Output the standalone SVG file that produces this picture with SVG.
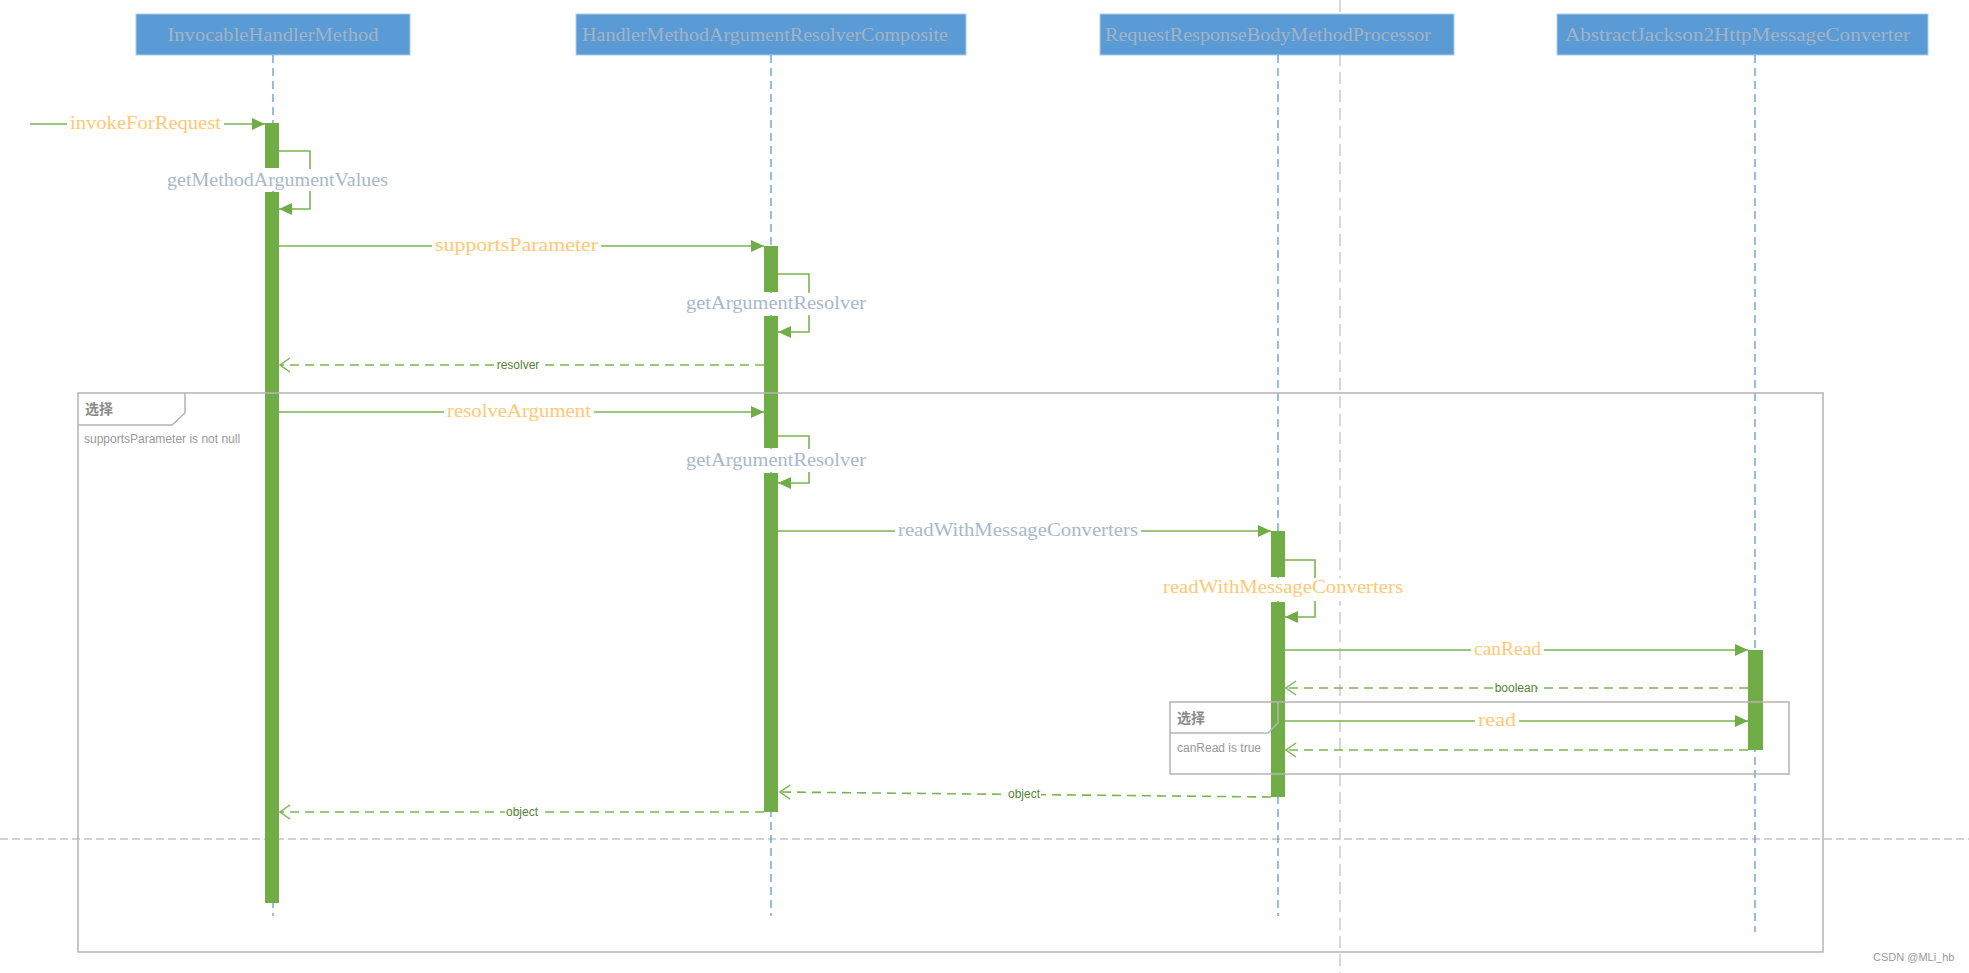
<svg xmlns="http://www.w3.org/2000/svg" width="1969" height="973" viewBox="0 0 1969 973">
<style>
.hdr{fill:#5b9bd5;stroke:#a8cdee;stroke-width:1}
.ht{font-family:"Liberation Serif",serif;font-size:18px;fill:#a3b3c6}
.life{stroke:#5b9bd5;stroke-width:1.3;stroke-dasharray:8 5}
.bar{fill:#70ad47}
.msg{stroke:#7ab552;stroke-width:1.6;fill:none}
.ret{stroke:#7ab552;stroke-width:1.6;fill:none;stroke-dasharray:9 6}
.mo{font-family:"Liberation Serif",serif;font-size:18px;fill:#ffc873}
.mg{font-family:"Liberation Serif",serif;font-size:18px;fill:#a8b8cc}
.rl{font-family:"Liberation Sans",sans-serif;font-size:12px;fill:#548235;text-anchor:middle}
.frame{fill:none;stroke:#b4b4b4;stroke-width:1.5}
.ft{font-family:"Noto Sans CJK SC",sans-serif;font-size:14px;font-weight:bold;fill:#8a8a8a}
.fc{font-family:"Liberation Sans",sans-serif;font-size:12px;fill:#999}
.bg{fill:#fff}
.gd{stroke:#c4c4c4;stroke-width:1.3;fill:none}
</style>
<defs>
<marker id="tri" markerWidth="14" markerHeight="12" refX="13" refY="6" orient="auto" markerUnits="userSpaceOnUse"><path d="M0,0 L13,6 L0,12 z" fill="#70ad47"/></marker>
<marker id="open" markerWidth="14" markerHeight="16" refX="11" refY="7" orient="auto" markerUnits="userSpaceOnUse" overflow="visible"><path d="M1,0 L11,7 L1,14" fill="none" stroke="#7ab552" stroke-width="1.5"/></marker>
</defs>
<rect width="1969" height="973" fill="#fff"/>
<g id="separators">
<line class="gd" x1="1340" y1="0" x2="1340" y2="973" stroke-dasharray="12 6"/>
<line class="gd" x1="0" y1="839" x2="1969" y2="839" stroke="#b0b0b0" stroke-width="1.5" stroke-dasharray="8 4"/>
</g>
<g id="InvocableHandlerMethod">
<rect class="hdr" x="136" y="14" width="274" height="41"/>
<text class="ht" x="273" y="41" text-anchor="middle" textLength="211" lengthAdjust="spacingAndGlyphs">InvocableHandlerMethod</text>
<line class="life" x1="273" y1="55" x2="273" y2="916"/>
<rect class="bar" x="265" y="123" width="14" height="45"/>
<rect class="bar" x="265" y="192" width="14" height="711"/>
</g>
<g id="HandlerMethodArgumentResolverComposite">
<rect class="hdr" x="576" y="14" width="390" height="41"/>
<text class="ht" x="582" y="41" textLength="366" lengthAdjust="spacingAndGlyphs">HandlerMethodArgumentResolverComposite</text>
<line class="life" x1="771" y1="55" x2="771" y2="916"/>
<rect class="bar" x="764" y="246" width="14" height="46"/>
<rect class="bar" x="764" y="316" width="14" height="132"/>
<rect class="bar" x="764" y="473" width="14" height="339"/>
</g>
<g id="RequestResponseBodyMethodProcessor">
<rect class="hdr" x="1100" y="14" width="354" height="41"/>
<text class="ht" x="1105" y="41" textLength="326" lengthAdjust="spacingAndGlyphs">RequestResponseBodyMethodProcessor</text>
<line class="life" x1="1278" y1="55" x2="1278" y2="916"/>
<rect class="bar" x="1271" y="531" width="14" height="46"/>
<rect class="bar" x="1271" y="602" width="14" height="195"/>
</g>
<g id="AbstractJackson2HttpMessageConverter">
<rect class="hdr" x="1557" y="14" width="371" height="41"/>
<text class="ht" x="1565" y="41" textLength="345" lengthAdjust="spacingAndGlyphs">AbstractJackson2HttpMessageConverter</text>
<line class="life" x1="1755" y1="55" x2="1755" y2="932"/>
<rect class="bar" x="1748" y="650" width="15" height="100"/>
</g>
<g id="frame-supportsParameter">
<rect class="frame" x="78" y="393" width="1745" height="559"/>
<path class="frame" d="M78,425 H172 L185,413 V393"/>
<text class="ft" x="85" y="414">选择</text>
<text class="fc" x="84" y="443">supportsParameter is not null</text>
</g>
<g id="frame-canRead">
<rect class="frame" x="1170" y="702" width="619" height="72"/>
<path class="frame" d="M1170,733 H1268 L1278,723 V702"/>
<text class="ft" x="1177" y="723">选择</text>
<text class="fc" x="1177" y="752">canRead is true</text>
</g>
<g id="connectors">
<line class="msg" x1="30" y1="124" x2="265" y2="124" marker-end="url(#tri)"/>
<rect class="bg" x="67" y="115" width="157" height="18"/>
<text class="mo" x="70" y="129" textLength="151" lengthAdjust="spacingAndGlyphs">invokeForRequest</text>

<path class="msg" d="M279,151 H310 V209 H279" marker-end="url(#tri)"/>
<rect class="bg" x="164" y="169" width="227" height="22"/>
<text class="mg" x="167" y="186" textLength="221" lengthAdjust="spacingAndGlyphs">getMethodArgumentValues</text>

<line class="msg" x1="279" y1="246" x2="764" y2="246" marker-end="url(#tri)"/>
<rect class="bg" x="432" y="237" width="169" height="18"/>
<text class="mo" x="435" y="251" textLength="163" lengthAdjust="spacingAndGlyphs">supportsParameter</text>

<path class="msg" d="M778,274 H809 V332 H778" marker-end="url(#tri)"/>
<rect class="bg" x="683" y="293" width="186" height="22"/>
<text class="mg" x="686" y="309" textLength="180" lengthAdjust="spacingAndGlyphs">getArgumentResolver</text>

<line class="ret" x1="764" y1="365" x2="280" y2="365" marker-end="url(#open)"/>
<rect class="bg" x="497" y="358" width="43" height="14"/>
<text class="rl" x="518" y="369">resolver</text>

<line class="msg" x1="279" y1="412" x2="764" y2="412" marker-end="url(#tri)"/>
<rect class="bg" x="444" y="403" width="150" height="18"/>
<text class="mo" x="447" y="417" textLength="144" lengthAdjust="spacingAndGlyphs">resolveArgument</text>

<path class="msg" d="M778,436 H809 V483 H778" marker-end="url(#tri)"/>
<rect class="bg" x="683" y="449" width="186" height="23"/>
<text class="mg" x="686" y="466" textLength="180" lengthAdjust="spacingAndGlyphs">getArgumentResolver</text>

<line class="msg" x1="778" y1="531" x2="1271" y2="531" marker-end="url(#tri)"/>
<rect class="bg" x="895" y="522" width="246" height="18"/>
<text class="mg" x="898" y="536" textLength="240" lengthAdjust="spacingAndGlyphs">readWithMessageConverters</text>

<path class="msg" d="M1285,560 H1315 V617 H1285" marker-end="url(#tri)"/>
<rect class="bg" x="1160" y="578" width="246" height="23"/>
<text class="mo" x="1163" y="593" textLength="240" lengthAdjust="spacingAndGlyphs">readWithMessageConverters</text>

<line class="msg" x1="1285" y1="650" x2="1748" y2="650" marker-end="url(#tri)"/>
<rect class="bg" x="1471" y="641" width="73" height="18"/>
<text class="mo" x="1474" y="655" textLength="67" lengthAdjust="spacingAndGlyphs">canRead</text>

<line class="ret" x1="1748" y1="688" x2="1286" y2="688" marker-end="url(#open)"/>
<rect class="bg" x="1496" y="681" width="40" height="14"/>
<text class="rl" x="1516" y="692">boolean</text>

<line class="msg" x1="1285" y1="721" x2="1748" y2="721" marker-end="url(#tri)"/>
<rect class="bg" x="1475" y="712" width="44" height="18"/>
<text class="mo" x="1478" y="726" textLength="38" lengthAdjust="spacingAndGlyphs">read</text>

<line class="ret" x1="1748" y1="750" x2="1286" y2="750" marker-end="url(#open)"/>

<line class="ret" x1="1271" y1="797" x2="780" y2="792" marker-end="url(#open)"/>
<rect class="bg" x="1007" y="787" width="34" height="14"/>
<text class="rl" x="1024" y="798">object</text>

<line class="ret" x1="764" y1="812" x2="280" y2="812" marker-end="url(#open)"/>
<rect class="bg" x="505" y="805" width="34" height="14"/>
<text class="rl" x="522" y="816">object</text>
</g>
<text x="1873" y="961" font-family="Liberation Sans, sans-serif" font-size="11" fill="#999">CSDN @MLi_hb</text>
</svg>
